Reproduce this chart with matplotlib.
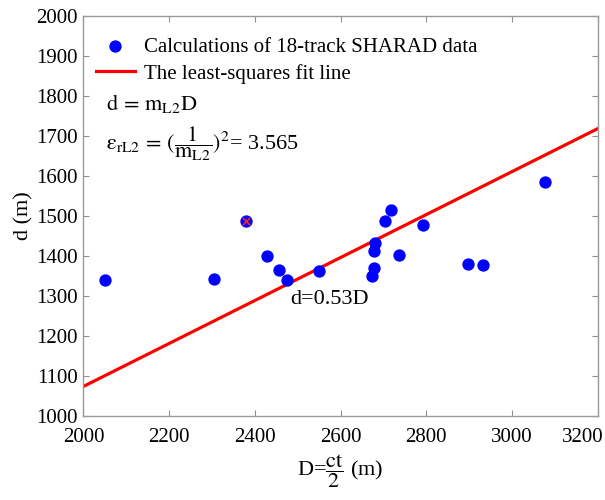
import matplotlib
matplotlib.use("Agg")
import matplotlib.pyplot as plt
import matplotlib.transforms as mtransforms
import numpy as np

plt.rcParams['font.family'] = ['Liberation Serif', 'DejaVu Serif']
plt.rcParams['mathtext.fontset'] = 'stix'

# data
D_vals = [2050, 2305, 2380, 2428, 2456, 2475, 2550, 2674, 2679, 2677,
          2680, 2703, 2717, 2736, 2792, 2898, 2933, 3078]
d_vals = [1340, 1342, 1487, 1401, 1365, 1340, 1362, 1351, 1371, 1412,
          1433, 1487, 1515, 1402, 1477, 1379, 1377, 1584]
outlier_D = [2380]
outlier_d = [1487]
fit_slope = 0.537
fit_x = [2000, 3200]
x_ticks = [2000, 2200, 2400, 2600, 2800, 3000, 3200]
y_ticks = [1000, 1100, 1200, 1300, 1400, 1500, 1600, 1700, 1800, 1900, 2000]

fig = plt.figure(figsize=(6.05, 5.0), dpi=100)
ax = fig.add_axes([0.138, 0.168, 0.850, 0.800])

sc = ax.scatter(D_vals, d_vals, s=62, color='#0000ff', zorder=3,
                label='Calculations of 18-track SHARAD data')
ax.scatter(outlier_D, outlier_d, marker='x', s=30, color='#ff2020', linewidths=1.2, zorder=4)
fx = np.array(fit_x, dtype=float)
ln, = ax.plot(fx, fit_slope * fx, color='#ff0000', lw=2.3, zorder=2,
              label='The least-squares fit line')

ax.set_xlim(2000, 3200)
ax.set_ylim(1000, 2000)
ax.set_xticks(x_ticks)
ax.set_yticks(y_ticks)
ax.tick_params(direction='in', top=True, right=True, length=4, color='#909090',
               labelsize=15, pad=4)
ax.tick_params(axis='x', pad=9)
for sp in ax.spines.values():
    sp.set_color('#9a9a9a')
    sp.set_linewidth(1.0)

# keep the last x tick label inside the figure
lbl = ax.get_xticklabels()[-1]
lbl.set_ha('right')
lbl.set_transform(lbl.get_transform() + mtransforms.ScaledTranslation(6 / 100, 0, fig.dpi_scale_trans))

ax.set_ylabel('d (m)', fontsize=16, labelpad=2)
ax.set_xlabel(r'D=$\dfrac{\mathrm{ct}}{2}$ (m)', fontsize=16, labelpad=3)

leg = ax.legend(handles=[sc, ln], loc='upper left', frameon=False, fontsize=15,
                bbox_to_anchor=(-0.005, 0.983), handlelength=1.9, handletextpad=0.45,
                borderaxespad=0.3, labelspacing=0.32, scatterpoints=1)

ax.text(0.043, 0.78, r'$\mathrm{d\,=\,m_{L2}D}$', transform=ax.transAxes,
        fontsize=16, va='center')
ax.text(0.043, 0.68, r'$\mathrm{\varepsilon_{rL2}\,=\,(\dfrac{1}{m_{L2}})^{2}}$= 3.565',
        transform=ax.transAxes, fontsize=16, va='center')
ax.text(2575, 1290, 'd=0.53D', fontsize=16, ha='center', va='center')

fig.savefig('out.png', dpi=100)
